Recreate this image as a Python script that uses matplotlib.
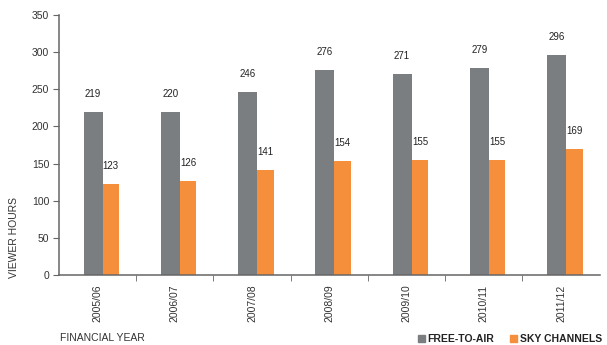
import matplotlib
matplotlib.use("Agg")
import matplotlib.pyplot as plt
import numpy as np
from matplotlib.patches import Rectangle

plt.rcParams['font.family'] = ['Liberation Sans', 'DejaVu Sans']

years = ["2005/06", "2006/07", "2007/08", "2008/09", "2009/10", "2010/11", "2011/12"]
free_to_air = [219, 220, 246, 276, 271, 279, 296]
sky_channels = [123, 126, 141, 154, 155, 155, 169]

gray = "#7b7e81"
orange = "#f58f3b"
axis_col = "#666666"

fig = plt.figure(figsize=(6.07, 3.45), dpi=100)
ax = fig.add_axes([0.097, 0.203, 0.891, 0.7535])

x = np.arange(len(years))
wg, wo = 0.245, 0.215
xg = x - 0.18 + wg / 2
xo = x + 0.065 + wo / 2
ax.bar(xg, free_to_air, width=wg, color=gray, zorder=2)
ax.bar(xo, sky_channels, width=wo, color=orange, zorder=2)

for xi, v in zip(xg, free_to_air):
    ax.annotate(str(v), (xi, v), xytext=(0, 13), textcoords="offset points",
                ha="center", va="center", fontsize=7, color="#222222")
for xi, v in zip(xo, sky_channels):
    ax.annotate(str(v), (xi, v), xytext=(0, 13), textcoords="offset points",
                ha="center", va="center", fontsize=7, color="#222222")

ax.set_xlim(-0.5, len(years) - 0.5)
ax.set_ylim(0, 350)
ax.set_yticks(range(0, 351, 50))
ax.set_xticks(x)
ax.set_xticklabels(years, rotation=90, fontsize=7.5, color="#333333")
ax.set_xticks(np.arange(0.5, len(years) - 0.5, 1), minor=True)
ax.tick_params(axis="x", which="major", length=0, pad=7)
ax.tick_params(axis="x", which="minor", length=4, direction="out", color=axis_col)
ax.tick_params(axis="y", length=4, direction="out", color=axis_col, labelsize=7.5,
               labelcolor="#333333", pad=3)

for s in ["top", "right"]:
    ax.spines[s].set_visible(False)
for s in ["left", "bottom"]:
    ax.spines[s].set_color(axis_col)
    ax.spines[s].set_linewidth(1.1)

fig.text(14 / 607, 1 - 237 / 345, "VIEWER HOURS", rotation=90, ha="center", va="center",
         fontsize=7.5, color="#333333")
fig.text(60 / 607, 1 - 338 / 345, "FINANCIAL YEAR", ha="left", va="center",
         fontsize=7.5, color="#333333")

# legend at bottom right
fig.patches.append(Rectangle((418 / 607, 1 - 342 / 345), 7 / 607, 7 / 345,
                             transform=fig.transFigure, color=gray))
fig.text(427 / 607, 1 - 338.5 / 345, "FREE-TO-AIR", ha="left", va="center",
         fontsize=7.5, fontweight="bold", color="#222222")
fig.patches.append(Rectangle((510 / 607, 1 - 342 / 345), 7 / 607, 7 / 345,
                             transform=fig.transFigure, color=orange))
fig.text(520 / 607, 1 - 338.5 / 345, "SKY CHANNELS", ha="left", va="center",
         fontsize=7.5, fontweight="bold", color="#222222")

fig.savefig("out.png", dpi=100)
